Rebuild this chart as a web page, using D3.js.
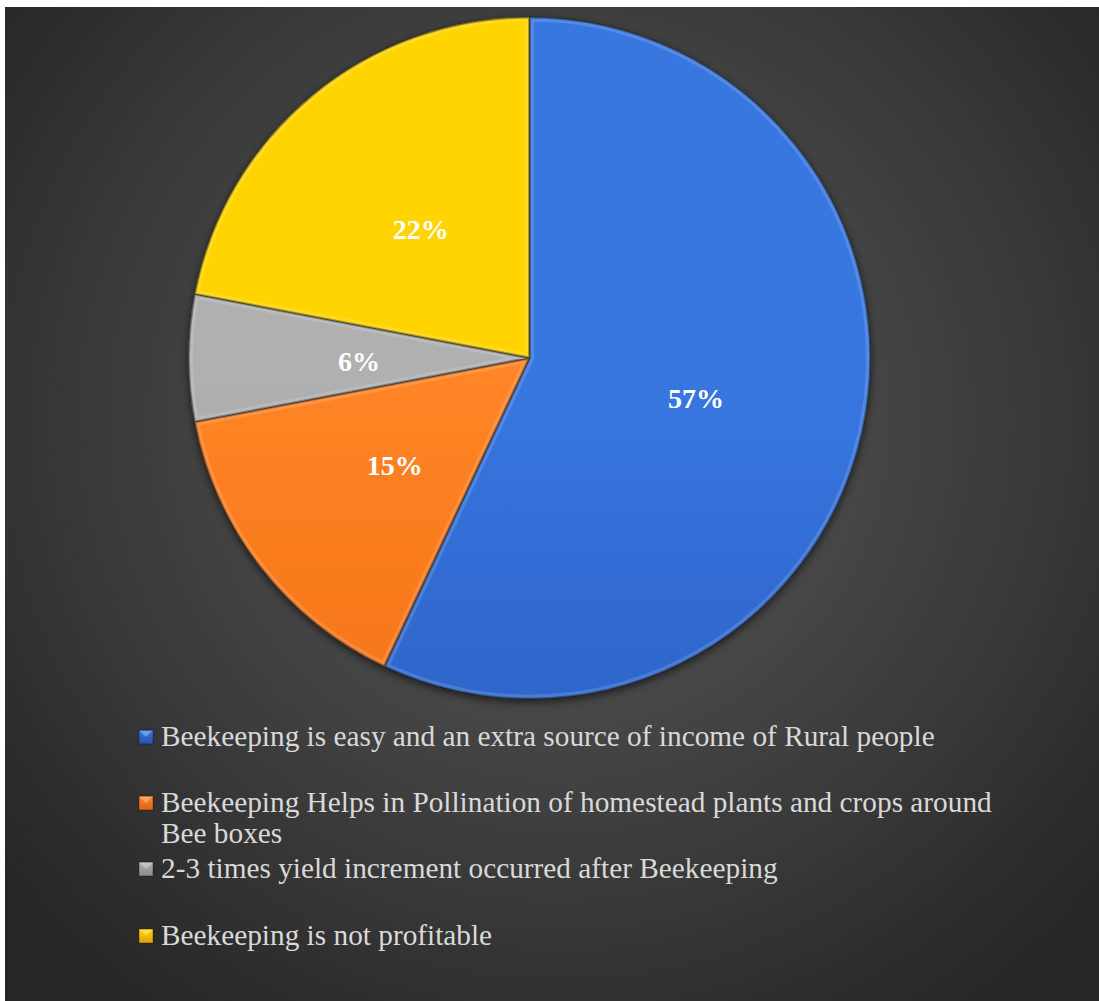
<!DOCTYPE html>
<html>
<head>
<meta charset="utf-8">
<script src="https://cdn.jsdelivr.net/npm/d3@7"></script>
<style>
  html, body { margin: 0; padding: 0; background: #ffffff; }
  svg { display: block; }
</style>
</head>
<body>
<script>
// Survey responses on beekeeping (share of respondents, %)
const categories = [
  "Beekeeping is easy and an extra source of income of Rural people",
  "Beekeeping Helps in Pollination of homestead plants and crops around Bee boxes",
  "2-3 times yield increment occurred after Beekeeping",
  "Beekeeping is not profitable"
];
const values = [57, 15, 6, 22];
const legendLines = [
  ["Beekeeping is easy and an extra source of income of Rural people"],
  ["Beekeeping Helps in Pollination of homestead plants and crops around", "Bee boxes"],
  ["2-3 times yield increment occurred after Beekeeping"],
  ["Beekeeping is not profitable"]
];
// top / upper / middle / bottom tones for each slice
const palette = [
  { c0: "#3877e0", c1: "#3370d8", c2: "#2e65ca", c3: "#2852aa" },
  { c0: "#ff8526", c1: "#fb7e20", c2: "#f4761b", c3: "#dc6610" },
  { c0: "#b0b0b0", c1: "#a8a8a8", c2: "#9e9e9e", c3: "#8a8a8a" },
  { c0: "#ffd400", c1: "#f7c400", c2: "#ecb000", c3: "#e0a000" }
];

const W = 1099, H = 1001;
const cx = 529.5, cy = 358, R = 341;
const serif = "'Liberation Serif', 'Times New Roman', Times, serif";

const svg = d3.select("body").append("svg")
  .attr("width", W).attr("height", H);

const defs = svg.append("defs");

// dark backdrop, brightest behind the pie
const bg = defs.append("radialGradient").attr("id", "bg")
  .attr("gradientUnits", "userSpaceOnUse")
  .attr("cx", 560).attr("cy", 420).attr("r", 720);
bg.append("stop").attr("offset", "0%").attr("stop-color", "#5b5b5b");
bg.append("stop").attr("offset", "55%").attr("stop-color", "#3f3f3f");
bg.append("stop").attr("offset", "100%").attr("stop-color", "#262626");

svg.append("rect").attr("x", 5).attr("y", 7)
  .attr("width", W - 5).attr("height", H - 7)
  .attr("fill", "url(#bg)");

// slice gradients
palette.forEach((p, i) => {
  const g = defs.append("linearGradient").attr("id", "sg" + i)
    .attr("gradientUnits", "userSpaceOnUse")
    .attr("x1", 0).attr("y1", cy - R).attr("x2", 0).attr("y2", cy + R);
  g.append("stop").attr("offset", "0%").attr("stop-color", p.c0);
  g.append("stop").attr("offset", "20%").attr("stop-color", p.c1);
  g.append("stop").attr("offset", "50%").attr("stop-color", p.c2);
  g.append("stop").attr("offset", "100%").attr("stop-color", p.c3);

  const m = defs.append("linearGradient").attr("id", "mg" + i)
    .attr("x1", 0).attr("y1", 0).attr("x2", 0).attr("y2", 1);
  m.append("stop").attr("offset", "0%").attr("stop-color", p.c0);
  m.append("stop").attr("offset", "100%").attr("stop-color", p.c3);
});

// soft shadow under the pie
const sh = defs.append("filter").attr("id", "shadow")
  .attr("x", "-10%").attr("y", "-10%").attr("width", "120%").attr("height", "120%");
sh.append("feGaussianBlur").attr("in", "SourceAlpha").attr("stdDeviation", 4).attr("result", "b");
sh.append("feOffset").attr("in", "b").attr("dx", 0).attr("dy", 3).attr("result", "o");
sh.append("feComponentTransfer").attr("in", "o").attr("result", "s")
  .append("feFuncA").attr("type", "linear").attr("slope", 0.6);
const mrg = sh.append("feMerge");
mrg.append("feMergeNode").attr("in", "s");
mrg.append("feMergeNode").attr("in", "SourceGraphic");

const pie = d3.pie().sort(null).value(d => d);
const arcs = pie(values);
const arc = d3.arc().innerRadius(0).outerRadius(R);

const g = svg.append("g").attr("transform", `translate(${cx},${cy})`);

// clip paths for inner bevel strokes
arcs.forEach((a, i) => {
  defs.append("clipPath").attr("id", "clip" + i)
    .append("path").attr("d", arc(a));
});

const slices = g.append("g").attr("filter", "url(#shadow)");
slices.selectAll("path.slice")
  .data(arcs).join("path")
  .attr("class", "slice")
  .attr("d", arc)
  .attr("fill", (d, i) => `url(#sg${i})`)
  .attr("stroke", "rgba(0,0,0,0.4)")
  .attr("stroke-width", 1);

// bevel: light rim on the inside, dark rim on the outside edge
g.selectAll("path.bevel")
  .data(arcs).join("path")
  .attr("class", "bevel")
  .attr("d", arc)
  .attr("clip-path", (d, i) => `url(#clip${i})`)
  .attr("fill", "none")
  .attr("stroke", "rgba(255,255,255,0.14)")
  .attr("stroke-width", 9);
g.selectAll("path.bevel2")
  .data(arcs).join("path")
  .attr("class", "bevel2")
  .attr("d", arc)
  .attr("clip-path", (d, i) => `url(#clip${i})`)
  .attr("fill", "none")
  .attr("stroke", "rgba(0,0,0,0.3)")
  .attr("stroke-width", 3);

// percentage labels
g.selectAll("text.lbl")
  .data(arcs).join("text")
  .attr("class", "lbl")
  .attr("x", d => arc.centroid(d)[0])
  .attr("y", d => arc.centroid(d)[1])
  .attr("dy", "0.45em")
  .attr("text-anchor", "middle")
  .attr("font-family", serif)
  .attr("font-weight", "bold")
  .attr("font-size", 28)
  .attr("fill", "#ffffff")
  .text(d => d3.format(".0%")(d.value / 100));

// legend
const legendBaselines = [746, 812, 878, 945];
const legend = svg.append("g");
legendLines.forEach((lines, i) => {
  const y = legendBaselines[i];
  legend.append("rect")
    .attr("x", 139).attr("y", y - 16)
    .attr("width", 14).attr("height", 14)
    .attr("fill", `url(#mg${i})`)
    .attr("stroke", "rgba(0,0,0,0.4)").attr("stroke-width", 0.8);
  legend.append("path")
    .attr("d", `M${140},${y - 15} L${152},${y - 15} L${146},${y - 9} Z`)
    .attr("fill", "rgba(255,255,255,0.3)");
  const t = legend.append("text")
    .attr("x", 161).attr("y", y)
    .attr("font-family", serif)
    .attr("font-size", 29.3)
    .attr("fill", "#d9d9d9");
  lines.forEach((ln, j) => {
    t.append("tspan").attr("x", 161).attr("dy", j === 0 ? 0 : 31).text(ln);
  });
});
</script>
</body>
</html>
